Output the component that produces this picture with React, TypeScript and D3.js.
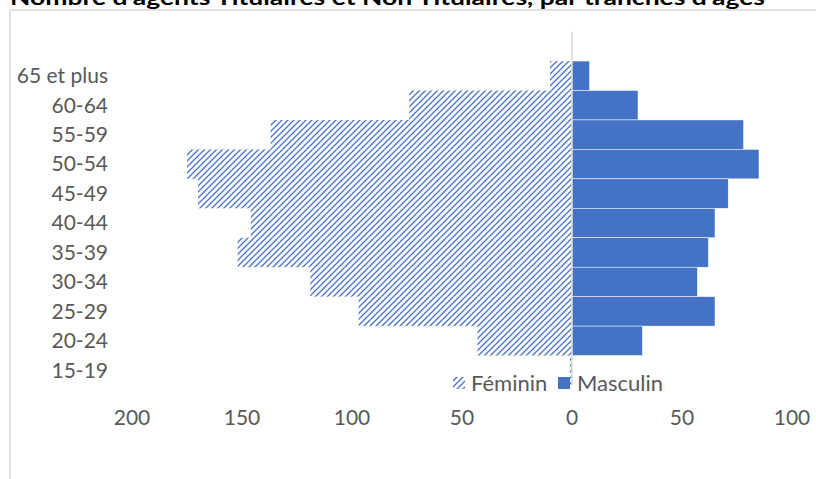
import React from "react";
import * as d3 from "d3";

// age groups, top to bottom
const ageGroups = ["65 et plus", "60-64", "55-59", "50-54", "45-49", "40-44", "35-39", "30-34", "25-29", "20-24", "15-19"];
const feminin = [10, 74, 137, 175, 170, 146, 152, 119, 97, 43, 1];
const masculin = [8, 30, 78, 85, 71, 65, 62, 57, 65, 32, 0];
const xTicks = [-200, -150, -100, -50, 0, 50, 100];

const W = 816;
const H = 479;
const BLUE = "#4472C4";
const FONT = "Lato, 'Open Sans', sans-serif";
const FS = 21;

export default function App() {
  const x = d3.scaleLinear().domain([-200, 100]).range([132, 792]);
  // Excel keeps an empty slot above the top category
  const y = d3.scaleBand<string>().domain(["", ...ageGroups]).range([31.6, 385]).padding(0);
  const bw = y.bandwidth();

  return (
    <svg width={W} height={H} style={{ position: "absolute", left: 0, top: 0, background: "#fff" }}>
      <defs>
        <pattern id="hatch" patternUnits="userSpaceOnUse" width={6} height={6}>
          <path d="M0,6 L6,0 M-1.5,1.5 L1.5,-1.5 M4.5,7.5 L7.5,4.5" stroke={BLUE} strokeWidth={1.3} />
        </pattern>
      </defs>

      {/* title, cut off at top like the source */}
      <text x={10} y={5} fontFamily={FONT} fontWeight="bold" fontSize={20} fill="#000" textLength={755} lengthAdjust="spacingAndGlyphs">
        Nombre d'agents Titulaires et Non Titulaires, par tranches d'âges
      </text>

      {/* chart frame */}
      <rect x={10} y={10} width={W} height={H} fill="none" stroke="#d9d9d9" strokeWidth={1.5} />

      {ageGroups.map((g, i) => (
        <g key={g}>
          <rect x={x(-feminin[i])} y={y(g)!} width={x(0) - x(-feminin[i])} height={bw} fill="url(#hatch)" />
          <rect x={x(0)} y={y(g)!} width={x(masculin[i]) - x(0)} height={bw} fill={BLUE} stroke="#fff" strokeWidth={0.5} />
          <text x={108} y={y(g)! + bw / 2} dy="0.35em" textAnchor="end" fontFamily={FONT} fontSize={FS} fill="#595959">
            {g}
          </text>
        </g>
      ))}

      {/* zero axis */}
      <line x1={x(0)} x2={x(0)} y1={y.range()[0]} y2={y.range()[1]} stroke="#d9d9d9" strokeWidth={1.5} />

      {xTicks.map((t) => (
        <text key={t} x={x(t)} y={418} dy="0.35em" textAnchor="middle" fontFamily={FONT} fontSize={FS} fill="#595959">
          {Math.abs(t)}
        </text>
      ))}

      {/* legend */}
      <g>
        <rect x={453} y={377} width={12} height={12} fill="url(#hatch)" />
        <text x={471} y={383} dy="0.35em" fontFamily={FONT} fontSize={FS + 1} fill="#595959">Féminin</text>
        <rect x={558} y={377} width={12} height={12} fill={BLUE} />
        <text x={577} y={383} dy="0.35em" fontFamily={FONT} fontSize={FS + 1} fill="#595959">Masculin</text>
      </g>
    </svg>
  );
}
